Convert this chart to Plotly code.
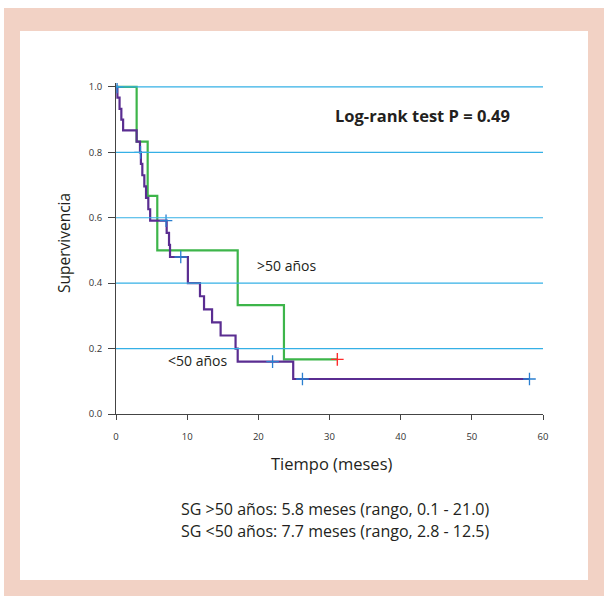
import plotly.graph_objects as go

# ---- data ----
# <50 años (purple) step curve
t_lt50 = [0, 0.2, 0.5, 0.75, 1.0, 2.9, 3.37, 3.5, 3.7, 3.98, 4.22, 4.54, 4.8,
          7.12, 7.45, 7.59, 10.1, 11.8, 12.37, 13.5, 14.7, 16.8, 17.1, 24.9, 58.1]
s_lt50 = [1.0, 0.967, 0.933, 0.9, 0.867, 0.833, 0.8, 0.765, 0.730, 0.696, 0.661, 0.626, 0.591,
          0.554, 0.517, 0.480, 0.40, 0.36, 0.32, 0.28, 0.24, 0.20, 0.16, 0.107, 0.107]
cens_t_lt50 = [0.15, 3.45, 7.03, 9.1, 22.0, 26.2, 58.1]
cens_s_lt50 = [1.0, 0.8, 0.591, 0.480, 0.16, 0.107, 0.107]

# >50 años (green) step curve
t_gt50 = [0, 2.9, 4.45, 5.8, 17.1, 23.6, 31.1]
s_gt50 = [1.0, 0.833, 0.667, 0.5, 0.333, 0.167, 0.167]
cens_t_gt50 = [31.1]
cens_s_gt50 = [0.167]

x_ticks = [0, 10, 20, 30, 40, 50, 60]
y_ticks = [0.0, 0.2, 0.4, 0.6, 0.8, 1.0]
grid_levels = [0.2, 0.4, 0.6, 0.8, 1.0]

# ---- layout geometry (pixels) ----
W, H = 604, 596
L, R, B = 116, 543, 414
Y1PX = 87                      # pixel row of survival 1.0
YMAX = 1.012                   # small headroom so the 1.0 grid line is not clipped
PH = (B - Y1PX) * YMAX
T = B - PH
PW = R - L


def px(xp):
    return (xp - L) / PW


def py(yp):
    return (B - yp) / PH


FONT = "Open Sans"
PURPLE = "#5a2d91"
GREEN = "#3db54a"
BLUE_GRID = "#35b0e6"
CENS_BLUE = "#2a7fd0"
PINK = "#f2d2c5"
TXT = "#231f20"

fig = go.Figure()

fig.add_trace(go.Scatter(x=t_gt50, y=s_gt50, mode="lines", line_shape="hv",
                         line=dict(color=GREEN, width=2.2), hoverinfo="skip"))
fig.add_trace(go.Scatter(x=t_lt50, y=s_lt50, mode="lines", line_shape="hv",
                         line=dict(color=PURPLE, width=2.2), hoverinfo="skip"))
fig.add_trace(go.Scatter(x=cens_t_lt50, y=cens_s_lt50, mode="markers",
                         marker=dict(symbol="cross-thin", size=9,
                                     line=dict(color=CENS_BLUE, width=1.3)),
                         hoverinfo="skip"))
fig.add_trace(go.Scatter(x=cens_t_gt50, y=cens_s_gt50, mode="markers",
                         marker=dict(symbol="cross-thin", size=9,
                                     line=dict(color="#ff2b2b", width=1.4)),
                         hoverinfo="skip"))

shapes = []
# horizontal grid lines drawn above traces
for g in grid_levels:
    shapes.append(dict(type="line", xref="x", yref="y", x0=0, x1=60, y0=g, y1=g,
                       line=dict(color=BLUE_GRID, width=1.2), layer="above"))

# pink frame
frame = [(4, 8, 604, 31), (4, 580, 604, 596), (4, 8, 20, 596), (588, 8, 604, 596)]
for x0, y0, x1, y1 in frame:
    shapes.append(dict(type="rect", xref="paper", yref="paper",
                       x0=px(x0), x1=px(x1), y0=py(y1), y1=py(y0),
                       fillcolor=PINK, line=dict(width=0), layer="below"))


def label(text, xp, yp, size, angle=0):
    return dict(text=text, x=px(xp), y=py(yp), xref="paper", yref="paper",
                xanchor="center", yanchor="middle", showarrow=False, textangle=angle,
                font=dict(family=FONT, size=size, color=TXT))


annotations = [
    label("<b>Log-rank test P = 0.49</b>", 422, 116, 16.5),
    label(">50 años", 286, 266, 14),
    label("<50 años", 197, 361, 14),
    label("Tiempo (meses)", 331, 463, 16.5),
    label("Supervivencia", 64, 243, 15.5, -90),
    label("SG >50 años: 5.8 meses (rango, 0.1 - 21.0)", 335, 509, 16),
    label("SG <50 años: 7.7 meses (rango, 2.8 - 12.5)", 335, 531, 16),
]

fig.update_layout(
    width=W, height=H,
    margin=dict(l=L, r=W - R, t=T, b=H - B, pad=0),
    paper_bgcolor="white", plot_bgcolor="rgba(0,0,0,0)",
    showlegend=False,
    shapes=shapes, annotations=annotations,
    font=dict(family=FONT, color="#333333"),
    xaxis=dict(range=[0, 60], tickvals=x_ticks, ticktext=[str(v) for v in x_ticks],
               showgrid=False, zeroline=False, showline=True, linecolor="#444444",
               linewidth=1, ticks="outside", ticklen=5, tickcolor="#444444",
               ticklabelstandoff=9,
               tickfont=dict(family=FONT, size=9.5, color="#333333")),
    yaxis=dict(range=[0, YMAX], tickvals=y_ticks, ticktext=[f"{v:.1f}" for v in y_ticks],
               showgrid=False, zeroline=False, showline=True, linecolor="#444444",
               linewidth=1, ticks="outside", ticklen=7, tickcolor="#444444",
               ticklabelstandoff=4,
               tickfont=dict(family=FONT, size=9.5, color="#333333")),
)

fig.write_html("out.html", config={"displayModeBar": False},
               post_script="document.body.style.margin='0';document.body.style.overflow='hidden';")
